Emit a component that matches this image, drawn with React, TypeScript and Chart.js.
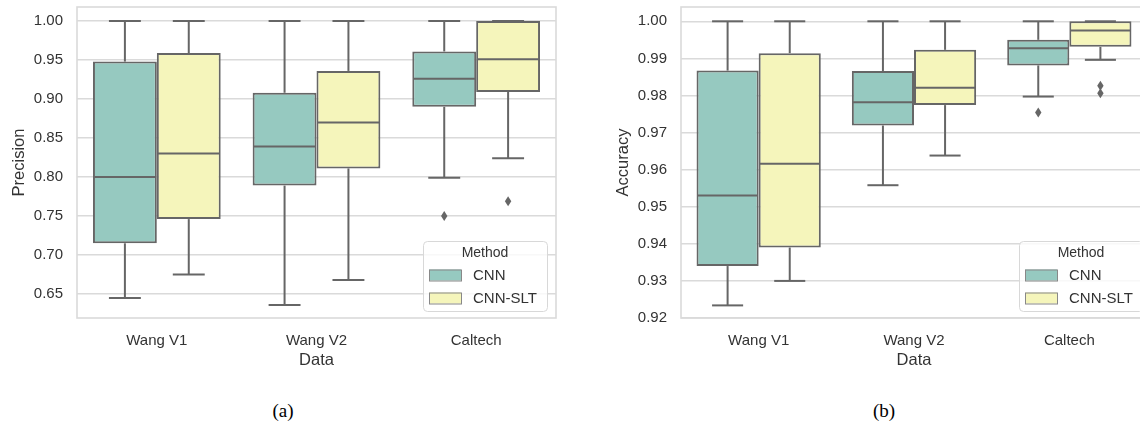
import React, { useEffect, useRef } from 'react';
import { Chart, registerables } from 'chart.js';

Chart.register(...registerables);

// ---------- data ----------
const categories = ['Wang V1', 'Wang V2', 'Caltech'];
const seriesNames = ['CNN', 'CNN-SLT'];
const precisionTicks = [0.65, 0.7, 0.75, 0.8, 0.85, 0.9, 0.95, 1.0];
const accuracyTicks = [0.92, 0.93, 0.94, 0.95, 0.96, 0.97, 0.98, 0.99, 1.0];

// each row: [lower whisker, Q1, median, Q3, upper whisker]
const precisionCNN = [
  [0.645, 0.715, 0.8, 0.948, 1.0],
  [0.636, 0.789, 0.839, 0.908, 1.0],
  [0.799, 0.89, 0.926, 0.961, 1.0],
];
const precisionCNNSLT = [
  [0.675, 0.746, 0.83, 0.959, 1.0],
  [0.668, 0.811, 0.87, 0.936, 1.0],
  [0.824, 0.909, 0.951, 1.0, 1.0],
];
const precisionCNNOutliers = [[], [], [0.75]];
const precisionCNNSLTOutliers = [[], [], [0.769]];

const accuracyCNN = [
  [0.9234, 0.934, 0.953, 0.9867, 1.0],
  [0.9558, 0.9719, 0.9782, 0.9866, 1.0],
  [0.9797, 0.9881, 0.9927, 0.995, 1.0],
];
const accuracyCNNSLT = [
  [0.93, 0.939, 0.9616, 0.9914, 1.0],
  [0.9638, 0.9774, 0.9821, 0.9923, 1.0],
  [0.9896, 0.9931, 0.9975, 1.0, 1.0],
];
const accuracyCNNOutliers = [[], [], [0.9754]];
const accuracyCNNSLTOutliers = [[], [], [0.9826, 0.9806]];

// ---------- styles ----------
const TEAL = '#96c9c0';
const YELLOW = '#f5f5bb';
const EDGE = '#666666';
const GRID = '#dadada';
const TEXT = '#333333';
const FONT = "'Liberation Sans', Arial, sans-serif";

const boxPlugin: any = {
  id: 'boxWhisker',
  beforeDatasetsDraw(chart: any) {
    const { ctx, chartArea } = chart;
    ctx.save();
    ctx.strokeStyle = GRID;
    ctx.lineWidth = 1.6;
    ctx.strokeRect(chartArea.left, chartArea.top, chartArea.right - chartArea.left, chartArea.bottom - chartArea.top);
    ctx.restore();
  },
  afterDatasetsDraw(chart: any, _args: any, opts: any) {
    const { ctx } = chart;
    const ys = chart.scales.y;
    const py = (v: number) => ys.getPixelForValue(v);
    ctx.save();
    ctx.strokeStyle = EDGE;
    ctx.fillStyle = EDGE;
    ctx.lineWidth = 2;
    const line = (x1: number, y1: number, x2: number, y2: number) => {
      ctx.beginPath();
      ctx.moveTo(x1, y1);
      ctx.lineTo(x2, y2);
      ctx.stroke();
    };
    opts.stats.forEach((series: number[][], di: number) => {
      const meta = chart.getDatasetMeta(di);
      meta.data.forEach((bar: any, i: number) => {
        const { x, width } = bar.getProps(['x', 'width'], true);
        const [lo, q1, med, q3, hi] = series[i];
        line(x, py(q3), x, py(hi));
        line(x, py(q1), x, py(lo));
        line(x - width / 4, py(hi), x + width / 4, py(hi));
        line(x - width / 4, py(lo), x + width / 4, py(lo));
        line(x - width / 2 + 1, py(med), x + width / 2 - 1, py(med));
        (opts.outliers[di][i] || []).forEach((v: number) => {
          const yy = py(v);
          ctx.beginPath();
          ctx.moveTo(x, yy - 5);
          ctx.lineTo(x + 3.2, yy);
          ctx.lineTo(x, yy + 5);
          ctx.lineTo(x - 3.2, yy);
          ctx.closePath();
          ctx.fill();
        });
      });
    });
    ctx.restore();
  },
  afterDraw(chart: any, _args: any, opts: any) {
    const { ctx } = chart;
    const L = opts.legendX;
    const T = opts.legendY;
    const W = 124;
    const H = 70;
    ctx.save();
    ctx.beginPath();
    (ctx as any).roundRect(L + 0.5, T + 0.5, W, H, 4);
    ctx.fillStyle = 'rgba(255,255,255,0.8)';
    ctx.fill();
    ctx.strokeStyle = '#d8d8d8';
    ctx.lineWidth = 1;
    ctx.stroke();
    ctx.fillStyle = TEXT;
    ctx.textBaseline = 'middle';
    ctx.textAlign = 'center';
    ctx.font = `14px ${FONT}`;
    ctx.fillText('Method', L + W / 2, T + 12);
    const colors = [TEAL, YELLOW];
    seriesNames.forEach((name, k) => {
      const cy = T + 34 + k * 23;
      ctx.fillStyle = colors[k];
      ctx.fillRect(L + 6, cy - 5.5, 32, 11);
      ctx.strokeStyle = '#888888';
      ctx.lineWidth = 1;
      ctx.strokeRect(L + 6.5, cy - 5, 32, 11);
      ctx.fillStyle = TEXT;
      ctx.textAlign = 'left';
      ctx.font = `15px ${FONT}`;
      ctx.fillText(name, L + 50, cy + 1);
    });
    ctx.restore();
  },
};

type PanelProps = {
  left: number;
  width: number;
  yTitle: string;
  ticks: number[];
  min: number;
  max: number;
  cnn: number[][];
  slt: number[][];
  cnnOut: number[][];
  sltOut: number[][];
  legendX: number;
};

function BoxPanel(p: PanelProps) {
  const ref = useRef<HTMLCanvasElement>(null);
  useEffect(() => {
    const chart = new Chart(ref.current as HTMLCanvasElement, {
      type: 'bar',
      data: {
        labels: categories,
        datasets: [
          {
            label: seriesNames[0],
            data: p.cnn.map((s) => [s[1], s[3]]) as any,
            backgroundColor: TEAL,
            borderColor: EDGE,
            borderWidth: 2,
            borderSkipped: false,
            categoryPercentage: 0.8,
            barPercentage: 1,
          },
          {
            label: seriesNames[1],
            data: p.slt.map((s) => [s[1], s[3]]) as any,
            backgroundColor: YELLOW,
            borderColor: EDGE,
            borderWidth: 2,
            borderSkipped: false,
            categoryPercentage: 0.8,
            barPercentage: 1,
          },
        ],
      },
      options: {
        animation: false,
        responsive: false,
        maintainAspectRatio: false,
        layout: { padding: { top: 7, right: 14, bottom: 10, left: 0 } },
        plugins: {
          legend: { display: false },
          tooltip: { enabled: false },
          boxWhisker: {
            stats: [p.cnn, p.slt],
            outliers: [p.cnnOut, p.sltOut],
            legendX: p.legendX,
            legendY: 241,
          },
        } as any,
        scales: {
          x: {
            grid: { display: false, drawTicks: false },
            border: { display: false },
            ticks: { padding: 14, color: TEXT, font: { family: FONT, size: 15 } },
            title: {
              display: true,
              text: 'Data',
              color: TEXT,
              font: { family: FONT, size: 16.5 },
              padding: { top: 0, bottom: 0 },
            },
            afterFit: (s: any) => {
              s.height = 52;
              s.paddingLeft = 0;
              s.paddingRight = 0;
            },
          },
          y: {
            min: p.min,
            max: p.max,
            afterBuildTicks: (s: any) => {
              s.ticks = p.ticks.map((v) => ({ value: v }));
            },
            ticks: {
              padding: 14,
              color: TEXT,
              font: { family: FONT, size: 15 },
              callback: (v: any) => Number(v).toFixed(2),
            },
            grid: { color: GRID, lineWidth: 1.5, drawTicks: false },
            border: { display: false },
            title: {
              display: true,
              text: p.yTitle,
              color: TEXT,
              font: { family: FONT, size: 16.5 },
              padding: { top: 10, bottom: 0 },
            },
            afterFit: (s: any) => {
              s.width = 77;
              s.paddingTop = 0;
              s.paddingBottom = 0;
            },
          },
        } as any,
      },
      plugins: [boxPlugin],
    });
    return () => chart.destroy();
  }, []);
  return (
    <canvas
      ref={ref}
      width={p.width}
      height={380}
      style={{ position: 'absolute', left: p.left, top: 0, width: p.width, height: 380 }}
    />
  );
}

export default function App() {
  return (
    <div
      style={{
        position: 'absolute',
        left: 0,
        top: 0,
        width: 1140,
        height: 430,
        overflow: 'hidden',
        background: '#ffffff',
      }}
    >
      <BoxPanel
        left={0}
        width={570}
        yTitle="Precision"
        ticks={precisionTicks}
        min={0.6192}
        max={1.018}
        cnn={precisionCNN}
        slt={precisionCNNSLT}
        cnnOut={precisionCNNOutliers}
        sltOut={precisionCNNSLTOutliers}
        legendX={423}
      />
      <BoxPanel
        left={604}
        width={557}
        yTitle="Accuracy"
        ticks={accuracyTicks}
        min={0.92}
        max={1.00385}
        cnn={accuracyCNN}
        slt={accuracyCNNSLT}
        cnnOut={accuracyCNNOutliers}
        sltOut={accuracyCNNSLTOutliers}
        legendX={415}
      />
      <div
        style={{
          position: 'absolute',
          left: 263,
          width: 40,
          top: 400,
          textAlign: 'center',
          fontFamily: "'Liberation Serif', 'Times New Roman', serif",
          fontSize: 19,
          color: '#000',
        }}
      >
        (a)
      </div>
      <div
        style={{
          position: 'absolute',
          left: 864,
          width: 40,
          top: 400,
          textAlign: 'center',
          fontFamily: "'Liberation Serif', 'Times New Roman', serif",
          fontSize: 19,
          color: '#000',
        }}
      >
        (b)
      </div>
    </div>
  );
}
